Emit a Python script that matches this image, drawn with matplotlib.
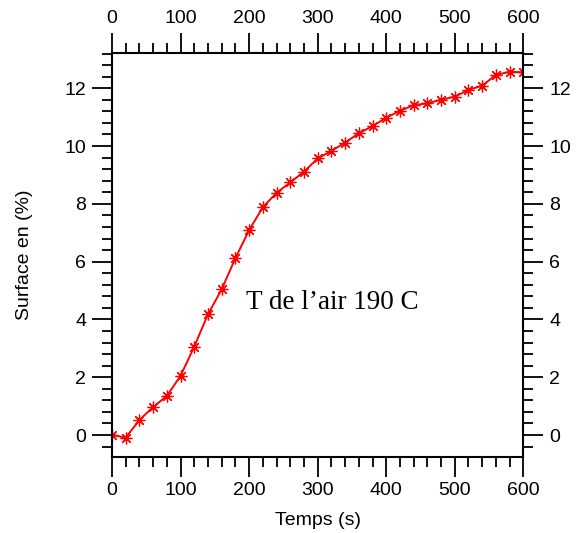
import numpy as np
import matplotlib
matplotlib.use("Agg")
from matplotlib import pyplot as plt
from matplotlib.ticker import MultipleLocator

# data
temps = [0, 20, 40, 60, 80, 100, 120, 140, 160, 180, 200, 220, 240, 260, 280, 300,
         320, 340, 360, 380, 400, 420, 440, 460, 480, 500, 520, 540, 560, 580, 600]
surface = [0.0, -0.09, 0.52, 0.97, 1.35, 2.05, 3.06, 4.18, 5.04, 6.12, 7.09, 7.88, 8.38, 8.74,
           9.11, 9.57, 9.83, 10.12, 10.44, 10.69, 10.98, 11.22, 11.41, 11.48, 11.60, 11.71,
           11.94, 12.09, 12.46, 12.57, 12.55]
x_ticks = [0, 100, 200, 300, 400, 500, 600]
y_ticks = [0, 2, 4, 6, 8, 10, 12]
annotation = "T de l\u2019air 190 C"

plt.rcParams['font.family'] = ['Liberation Sans', 'DejaVu Sans']

fig = plt.figure(figsize=(5.78, 5.33), dpi=100)
ax = fig.add_axes([0.1938, 0.1432, 0.9054 - 0.1938, 0.9006 - 0.1432])

ax.plot(temps, surface, color='red', linewidth=1.4, marker=(8, 2, 0),
        markersize=8.5, markeredgewidth=0.9, markeredgecolor='red')

ax.set_xlim(0, 600)
ax.set_ylim(-0.75, 13.22)
ax.set_xticks(x_ticks)
ax.set_yticks(y_ticks)
ax.xaxis.set_minor_locator(MultipleLocator(20))
ax.yaxis.set_minor_locator(MultipleLocator(0.4))

ax.tick_params(which='both', direction='out', top=True, right=True,
               labeltop=True, labelright=True, width=1.3, labelsize=14, pad=4)
ax.tick_params(which='major', length=14.5)
ax.tick_params(which='minor', length=7.2)
for sp in ax.spines.values():
    sp.set_linewidth(1.5)

ax.set_xlabel("Temps (s)", fontsize=14)
ax.set_ylabel("Surface en (%)", fontsize=14)
ax.xaxis.set_label_coords(0.5, -0.137)
ax.yaxis.set_label_coords(-0.192, 0.5)

ax.text(321, 4.6, annotation, family=['Liberation Serif', 'DejaVu Serif'],
        fontsize=19.5, ha='center', va='center')

fig.savefig("out.png", dpi=100)
